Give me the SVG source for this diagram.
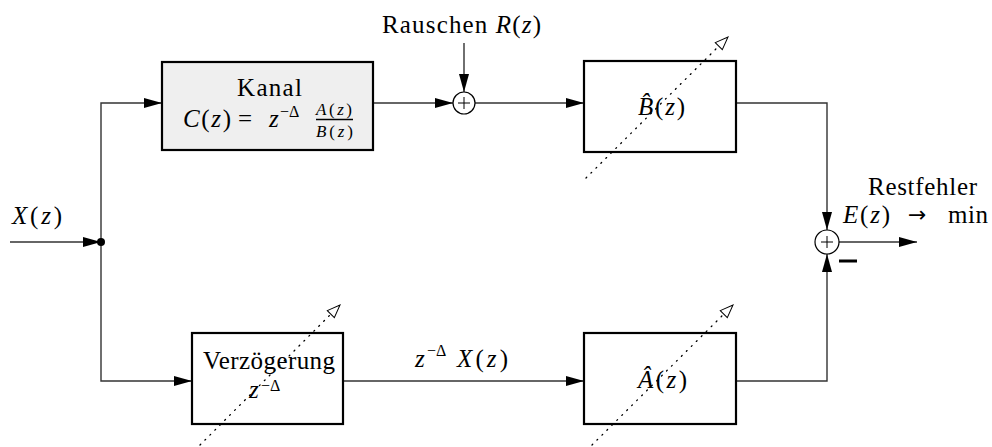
<svg xmlns="http://www.w3.org/2000/svg" width="992" height="447" viewBox="0 0 992 447">
<defs>
<marker id="arr" markerUnits="userSpaceOnUse" markerWidth="18" markerHeight="10" viewBox="0 0 18 10" refX="18" refY="5" orient="auto">
<path d="M0,0 L18,5 L0,10 z" fill="#000"/>
</marker>
<marker id="tri" markerUnits="userSpaceOnUse" markerWidth="16" markerHeight="12" viewBox="-1 -1 16 12" refX="13" refY="5" orient="auto">
<path d="M0,0 L13,5 L0,10 z" fill="#fff" stroke="#000" stroke-width="1"/>
</marker>
</defs>
<style>
.box{fill:#fff;stroke:#000;stroke-width:2.2}
.kanal{fill:#efefef;stroke:#000;stroke-width:2.2}
.wire{fill:none;stroke:#333;stroke-width:1.4}
.sum{fill:#fff;stroke:#000;stroke-width:1.2}
.plus{stroke:#000;stroke-width:1}
.dot{fill:none;stroke:#000;stroke-width:1.3;stroke-dasharray:1 6;stroke-linecap:round}
text{font-family:"Liberation Serif","Times New Roman",serif;font-size:25px;fill:#000}
.it{font-style:italic}
.sm{font-size:16px}
.fr{font-size:17px}
.ar{font-family:"DejaVu Sans",sans-serif;font-size:22px}
</style>
<g id="connectors">
<path class="wire" d="M10,242 H101" marker-end="url(#arr)"/>
<path class="wire" d="M101,242 V103 H162" marker-end="url(#arr)"/>
<path class="wire" d="M101,242 V381 H192" marker-end="url(#arr)"/>
<path class="wire" d="M373,103 H453" marker-end="url(#arr)"/>
<path class="wire" d="M464,43 V92" marker-end="url(#arr)"/>
<path class="wire" d="M475,103 H584" marker-end="url(#arr)"/>
<path class="wire" d="M736,103 H827 V230" marker-end="url(#arr)"/>
<path class="wire" d="M343,381 H584" marker-end="url(#arr)"/>
<path class="wire" d="M736,381 H827 V254" marker-end="url(#arr)"/>
<path class="wire" d="M839,242 H917" marker-end="url(#arr)"/>
<circle cx="101" cy="242" r="4" fill="#000"/>
<text x="415" y="367" class="it">z</text>
<text x="427" y="356" class="sm">−Δ</text>
<text x="457" y="367" textLength="51" lengthAdjust="spacing"><tspan class="it">X</tspan>(<tspan class="it">z</tspan>)</text>
</g>
<g id="input-label">
<text x="12" y="224" textLength="50" lengthAdjust="spacing"><tspan class="it">X</tspan>(<tspan class="it">z</tspan>)</text>
</g>
<g id="kanal">
<rect class="kanal" x="162" y="62" width="211" height="88"/>
<text x="237" y="96" textLength="65" lengthAdjust="spacing">Kanal</text>
<text x="183" y="127" textLength="48" lengthAdjust="spacing"><tspan class="it">C</tspan>(<tspan class="it">z</tspan>)</text>
<text x="238" y="127">=</text>
<text x="269" y="127" class="it">z</text>
<text x="280" y="117" class="sm">−Δ</text>
<text class="fr" x="316" y="115" textLength="36" lengthAdjust="spacing"><tspan class="it">A</tspan>(<tspan class="it">z</tspan>)</text>
<line x1="316" y1="119.5" x2="353" y2="119.5" stroke="#000" stroke-width="1.3"/>
<text class="fr" x="316" y="137" textLength="37" lengthAdjust="spacing"><tspan class="it">B</tspan>(<tspan class="it">z</tspan>)</text>
</g>
<g id="rauschen">
<text x="382" y="33" textLength="159" lengthAdjust="spacing">Rauschen <tspan class="it">R</tspan>(<tspan class="it">z</tspan>)</text>
</g>
<g id="sum1">
<circle class="sum" cx="464" cy="103" r="11"/>
<path class="plus" d="M458,103 H470 M464,97 V109"/>
</g>
<g id="bhat">
<rect class="box" x="584" y="61" width="152" height="91"/>
<text x="638" y="115" textLength="47" lengthAdjust="spacing"><tspan class="it">B̂</tspan>(<tspan class="it">z</tspan>)</text>
<path class="dot" d="M586,178 L728,37" marker-end="url(#tri)"/>
</g>
<g id="sum2">
<circle class="sum" cx="827" cy="242" r="12"/>
<path class="plus" d="M821,242 H833 M827,236 V248"/>
<line x1="839" y1="261" x2="857" y2="261" stroke="#000" stroke-width="3"/>
</g>
<g id="output-label">
<text x="868" y="195" textLength="109" lengthAdjust="spacing">Restfehler</text>
<text x="843" y="223" textLength="47" lengthAdjust="spacing"><tspan class="it">E</tspan>(<tspan class="it">z</tspan>)</text>
<text x="908" y="222" class="ar">→</text>
<text x="948" y="223" textLength="40" lengthAdjust="spacing">min</text>
</g>
<g id="verzoegerung">
<rect class="box" x="192" y="333" width="151" height="91"/>
<text x="203" y="369" textLength="132" lengthAdjust="spacing">Verzögerung</text>
<text x="249" y="398" class="it">z</text>
<text x="261" y="391" class="sm">−Δ</text>
<path class="dot" d="M200,445 L340,305" marker-end="url(#tri)"/>
</g>
<g id="ahat">
<rect class="box" x="584" y="333" width="152" height="91"/>
<text x="638" y="388" textLength="49" lengthAdjust="spacing"><tspan class="it">Â</tspan>(<tspan class="it">z</tspan>)</text>
<path class="dot" d="M592,445 L733,305" marker-end="url(#tri)"/>
</g>
</svg>
